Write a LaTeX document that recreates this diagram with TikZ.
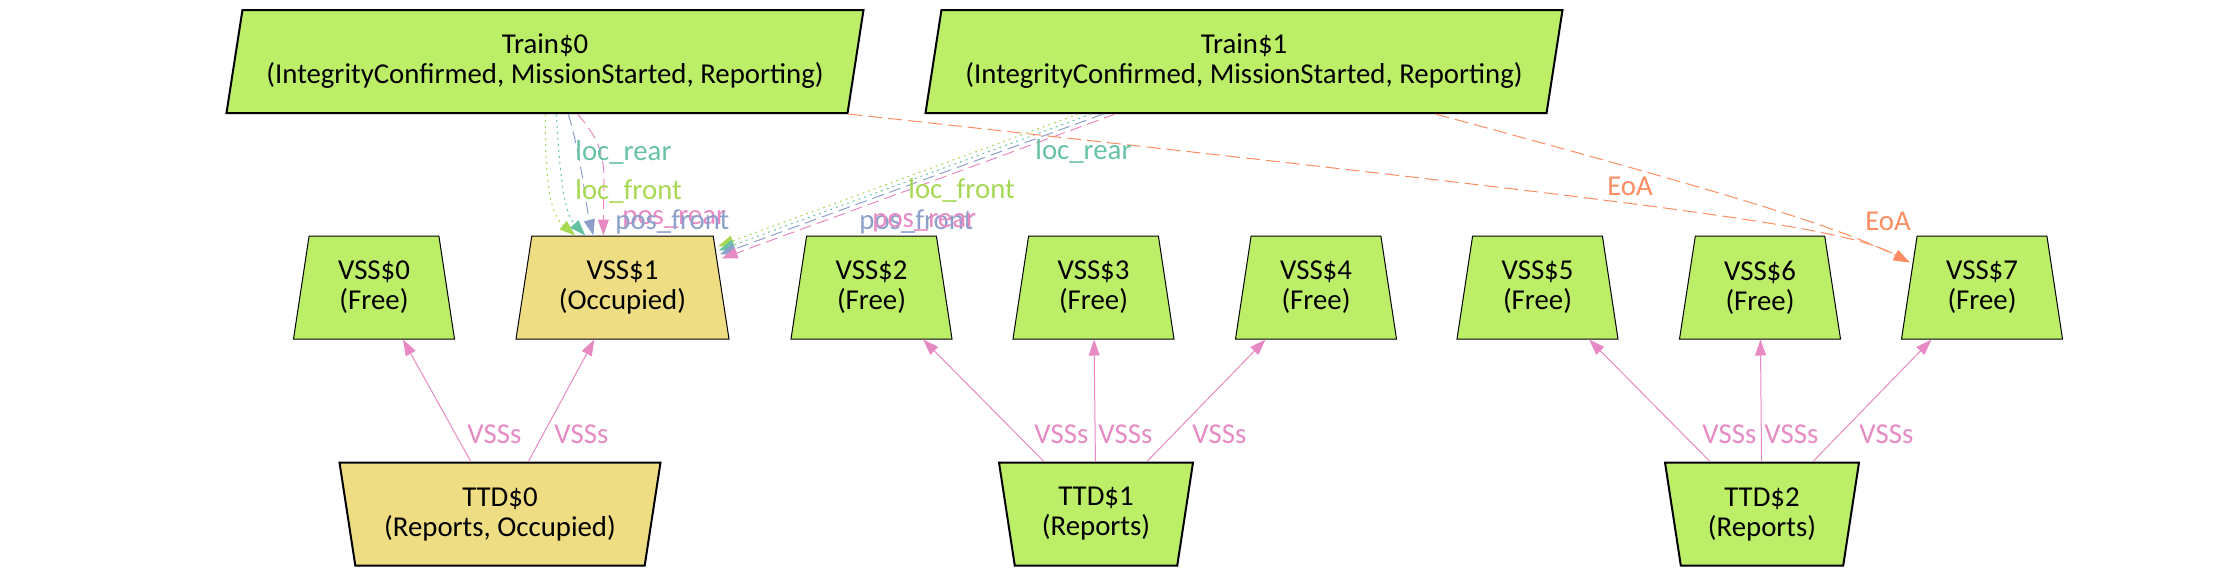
\documentclass[tikz,border=0pt]{standalone}
\usepackage{fontspec}
\setmainfont{Carlito}
\usetikzlibrary{calc, shapes.geometric, arrows.meta}

\definecolor{nodegreen}{HTML}{BCEE68}
\definecolor{nodegold}{HTML}{EEDD82}
\definecolor{locrear}{HTML}{66C2A5}
\definecolor{eoa}{HTML}{FC8D62}
\definecolor{posfront}{HTML}{8DA0CB}
\definecolor{posrear}{HTML}{E78AC3}
\definecolor{locfront}{HTML}{A6D854}

\begin{document}
\begin{tikzpicture}[x=0.5pt, y=-0.5pt,
    every node/.style={font={\fontsize{14.4}{15}\selectfont}},
    shapebox/.style={trapezium, draw=black, align=center, inner sep=0pt,
        trapezium stretches body, minimum height=51.5pt},
    trainbox/.style={shapebox, fill=nodegreen, line width=1pt,
        trapezium left angle=73.76, trapezium right angle=106.24, minimum width=318.5pt},
    vssbox/.style={shapebox, fill=nodegreen, line width=0.5pt,
        trapezium left angle=73.5, trapezium right angle=73.5, minimum width=80.5pt},
    ttdbox/.style={shapebox, fill=nodegreen, line width=1pt, shape border rotate=180,
        trapezium left angle=73.5, trapezium right angle=73.5, minimum width=97pt},
    arr/.style={-{Triangle[length=8pt, width=5.5pt]}, line width=0.5pt},
    locedge/.style={arr, dash pattern=on 1pt off 2pt},
    posedge/.style={arr, dash pattern=on 6pt off 3pt},
    eoaedge/.style={arr, eoa, dash pattern=on 7pt off 3pt},
    vssedge/.style={arr, posrear},
    lbl/.style={anchor=base west, inner sep=0pt},
]
    \useasboundingbox (0,0) rectangle (2227,575);

    \node[trainbox] (train0) at (545,61.5) {Train\$0\\(IntegrityConfirmed, MissionStarted, Reporting)};
    \node[trainbox] (train1) at (1244,61.5) {Train\$1\\(IntegrityConfirmed, MissionStarted, Reporting)};

    \node[vssbox] (vss0) at (374,287.5) {VSS\$0\\(Free)};
    \node[vssbox, fill=nodegold, minimum width=106.5pt] (vss1) at (622.5,287.5) {VSS\$1\\(Occupied)};
    \node[vssbox] (vss2) at (871.5,287.5) {VSS\$2\\(Free)};
    \node[vssbox] (vss3) at (1093.5,287.5) {VSS\$3\\(Free)};
    \node[vssbox] (vss4) at (1316,287.5) {VSS\$4\\(Free)};
    \node[vssbox] (vss5) at (1537.5,287.5) {VSS\$5\\(Free)};
    \node[vssbox] (vss6) at (1760,287.5) {VSS\$6\\(Free)};
    \node[vssbox] (vss7) at (1982,287.5) {VSS\$7\\(Free)};

    \node[ttdbox, fill=nodegold, minimum width=160.5pt] (ttd0) at (500,514) {TTD\$0\\(Reports, Occupied)};
    \node[ttdbox] (ttd1) at (1096,514) {TTD\$1\\(Reports)};
    \node[ttdbox] (ttd2) at (1762,514) {TTD\$2\\(Reports)};

    \foreach \a/\b in {ttd0/vss0, ttd0/vss1, ttd1/vss2, ttd1/vss3, ttd1/vss4, ttd2/vss5, ttd2/vss6, ttd2/vss7}
        \draw[vssedge] (\a) -- (\b);
    \foreach \x in {467,554,1034,1098,1192,1702,1764,1859}
        \node[lbl, posrear] (vsslbl\x) at (\x,443) {VSSs};

    \draw[locedge, locfront] ($(train0.bottom left corner)+(320,0)$) .. controls +(0,72) and +(-25,-21) .. ($(vss1.top left corner)+(44,0)$);
    \draw[locedge, locrear] ($(train0.bottom left corner)+(331,0)$) .. controls +(4,72) and +(-20,-21) .. ($(vss1.top left corner)+(54,0)$);
    \draw[posedge, posfront] ($(train0.bottom left corner)+(343,0)$) .. controls +(15,52) and +(-8,-31) .. ($(vss1.top left corner)+(62,0)$);
    \draw[posedge, posrear] ($(train0.bottom left corner)+(352,0)$) .. controls +(33,37) and +(0,-66) .. ($(vss1.top left corner)+(72,0)$);

    \draw[locedge, locfront] ($(train1.bottom left corner)+(154,0)$) -- ($(vss1.top right corner)+(4,11)$);
    \draw[locedge, locrear] ($(train1.bottom left corner)+(167,0)$) -- ($(vss1.top right corner)+(5,15)$);
    \draw[posedge, posfront] ($(train1.bottom left corner)+(179,0)$) -- ($(vss1.top right corner)+(6,19)$);
    \draw[posedge, posrear] ($(train1.bottom left corner)+(191,0)$) -- ($(vss1.top right corner)+(8,23)$);

    \draw[eoaedge] (train0.bottom right corner) .. controls +(867,95) and +(-65,-35) .. ($(vss7.top left corner)+(-7,27)$);
    \draw[eoaedge] ($(train1.bottom left corner)+(511,0)$) .. controls +(263,71) and +(-75,-38) .. ($(vss7.top left corner)+(-7,27)$);

    \node[lbl, locrear] (lr0) at (575,160) {loc\_rear};
    \node[lbl, locfront] (lf0) at (575,199) {loc\_front};
    \node[lbl, posrear] (pr0) at (622,224) {pos\_rear};
    \node[lbl, posfront] (pf0) at (615,229) {pos\_front};

    \node[lbl, locrear] (lr1) at (1035,159) {loc\_rear};
    \node[lbl, locfront] (lf1) at (908,198) {loc\_front};
    \node[lbl, posfront] (pf1) at (859,229) {pos\_front};
    \node[lbl, posrear] (pr1) at (872,227) {pos\_rear};

    \node[lbl, eoa] (eoa0) at (1607,195) {EoA};
    \node[lbl, eoa] (eoa1) at (1865,230) {EoA};
\end{tikzpicture}
\end{document}
